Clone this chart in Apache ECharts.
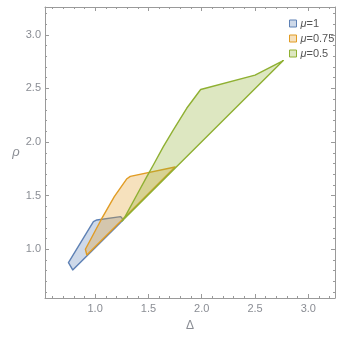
<!DOCTYPE html>
<html>
<head>
<meta charset="utf-8">
<script src="https://cdn.jsdelivr.net/npm/echarts@6/dist/echarts.min.js"></script>
<style>
  html, body { margin: 0; padding: 0; background: #fff; }
  #main { width: 359px; height: 340px; }
</style>
</head>
<body>
<div id="main"></div>
<script>
// region outlines (Δ, ρ)
var names = ['μ=1', 'μ=0.75', 'μ=0.5'];
var blueX = [0.75, 0.79, 1.265, 1.24, 1.016, 0.984];
var blueY = [0.875, 0.807, 1.275, 1.304, 1.273, 1.257];
var orangeX = [0.909, 0.922, 1.25, 1.75, 1.33, 1.295, 1.18, 1.055];
var orangeY = [1.0, 0.947, 1.27, 1.767, 1.68, 1.655, 1.49, 1.273];
var greenX = [1.25, 2.765, 2.5, 1.99, 1.859, 1.734, 1.64, 1.546, 1.485, 1.391, 1.281];
var greenY = [1.26, 2.76, 2.625, 2.49, 2.315, 2.113, 1.957, 1.786, 1.677, 1.506, 1.304];

var majorTicks = [1.0, 1.5, 2.0, 2.5, 3.0];
var minorTicks = [0.6, 0.7, 0.8, 0.9, 1.1, 1.2, 1.3, 1.4, 1.6, 1.7, 1.8, 1.9,
                  2.1, 2.2, 2.3, 2.4, 2.6, 2.7, 2.8, 2.9, 3.1, 3.2];

var strokes = ['#5E81B5', '#E19C24', '#8FB032'];
var fills = ['rgba(94,129,181,0.3)', 'rgba(225,156,36,0.3)', 'rgba(143,176,50,0.3)'];

var frame = '#9a9a9a';
var labelColor = '#8a8d94';
var xMin = 0.53, xMax = 3.25, yMin = 0.545, yMax = 3.26;

function pairs(xs, ys) {
    return xs.map(function (x, i) { return [x, ys[i]]; });
}

function polygonSeries(k, xs, ys) {
    var pts = pairs(xs, ys);
    return {
        type: 'custom',
        name: names[k],
        xAxisIndex: 0,
        yAxisIndex: 0,
        data: pts,
        encode: { x: 0, y: 1 },
        itemStyle: { color: fills[k], borderColor: strokes[k], borderWidth: 1 },
        renderItem: function (params, api) {
            if (params.dataIndex !== 0) return;
            return {
                type: 'polygon',
                shape: { points: pts.map(function (p) { return api.coord(p); }) },
                style: { fill: fills[k], stroke: strokes[k], lineWidth: 1.4, lineJoin: 'round' }
            };
        }
    };
}

function tickAxis(dim, pos, values, len, main) {
    return {
        type: 'value',
        position: pos,
        min: dim === 'x' ? xMin : yMin,
        max: dim === 'x' ? xMax : yMax,
        splitLine: { show: false },
        axisLine: { show: main, lineStyle: { color: frame, width: 1 } },
        axisTick: { show: true, inside: true, length: len, customValues: values,
                    lineStyle: { color: frame, width: 1 } },
        axisLabel: { show: false }
    };
}

var xAxes = [tickAxis('x', 'bottom', majorTicks, 4, true),
             tickAxis('x', 'bottom', minorTicks, 2, false),
             tickAxis('x', 'top', majorTicks, 4, true),
             tickAxis('x', 'top', minorTicks, 2, false)];
var yAxes = [tickAxis('y', 'left', majorTicks, 4, true),
             tickAxis('y', 'left', minorTicks, 2, false),
             tickAxis('y', 'right', majorTicks, 4, true),
             tickAxis('y', 'right', minorTicks, 2, false)];

xAxes[0].axisLabel = {
    show: true, customValues: majorTicks, margin: 5, color: labelColor,
    fontSize: 11, fontFamily: 'Liberation Sans',
    formatter: function (v) { return v.toFixed(1); }
};
xAxes[0].name = 'Δ';
xAxes[0].nameLocation = 'middle';
xAxes[0].nameGap = 22;
xAxes[0].nameTextStyle = { color: labelColor, fontSize: 12, fontFamily: 'Liberation Sans' };

yAxes[0].axisLabel = {
    show: true, customValues: majorTicks, margin: 4, color: labelColor,
    fontSize: 11, fontFamily: 'Liberation Sans',
    formatter: function (v) { return v.toFixed(1); }
};
yAxes[0].name = 'ρ';
yAxes[0].nameLocation = 'middle';
yAxes[0].nameRotate = 0;
yAxes[0].nameGap = 24;
yAxes[0].nameTextStyle = { color: labelColor, fontSize: 13, fontFamily: 'Liberation Sans', fontStyle: 'italic' };

var option = {
    animation: false,
    backgroundColor: '#fff',
    grid: { left: 45, top: 7, right: 24, bottom: 42, containLabel: false },
    legend: {
        orient: 'vertical',
        left: 284,
        top: 13,
        itemWidth: 7,
        itemHeight: 7,
        itemGap: 4,
        icon: 'rect',
        data: names.map(function (n, k) {
            return { name: n, icon: 'rect',
                     itemStyle: { color: fills[k], borderColor: strokes[k], borderWidth: 1 } };
        }),
        formatter: function (n) { return '{i|μ}{n|' + n.slice(1) + '}'; },
        textStyle: {
            color: '#555', fontSize: 11, fontFamily: 'Liberation Sans', padding: [0, 0, 0, -1],
            rich: {
                i: { fontStyle: 'italic', fontSize: 11, color: '#555', fontFamily: 'Liberation Sans', lineHeight: 12 },
                n: { fontSize: 11, color: '#555', fontFamily: 'Liberation Sans', lineHeight: 12 }
            }
        }
    },
    xAxis: xAxes,
    yAxis: yAxes,
    series: [
        polygonSeries(0, blueX, blueY),
        polygonSeries(1, orangeX, orangeY),
        polygonSeries(2, greenX, greenY)
    ]
};

var myChart = echarts.init(document.getElementById('main'));
myChart.setOption(option);
</script>
</body>
</html>
